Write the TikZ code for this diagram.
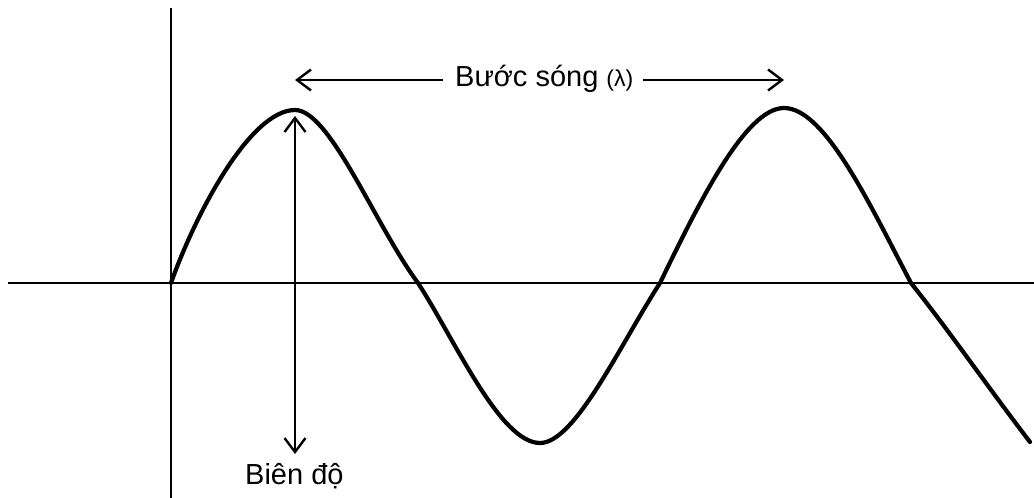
\documentclass[tikz,border=0pt]{standalone}
\usepackage{fontspec}
\setmainfont{Liberation Sans}
\usetikzlibrary{arrows.meta}
\begin{document}
\begin{tikzpicture}[x=1pt,y=-1pt,
  axis/.style={line width=2pt,black},
  wave/.style={line width=4.2pt,black,line join=round,line cap=round},
  barb/.tip={Straight Barb[length=14pt,width=21pt,line width=2.4pt]},
  dimarrow/.style={line width=2pt,black,-barb},
  lbl/.style={inner sep=0pt,font=\fontsize{29}{32}\selectfont}]
\useasboundingbox (0,0) rectangle (1034,498);
% axes
\coordinate (yT) at (171,8);
\coordinate (yB) at (171,498);
\coordinate (xL) at (8,283);
\coordinate (xR) at (1034,283);
\draw[axis] (yT) -- (yB);
\draw[axis] (xL) -- (xR);
% wave
\coordinate (w0) at (171,283);
\coordinate (p1) at (295,110);
\coordinate (z1) at (418,283);
\coordinate (t1) at (540,443);
\coordinate (z2) at (660,283);
\coordinate (p2) at (784,108);
\coordinate (z3) at (911,283);
\coordinate (wE) at (1030,442);
\draw[wave] (w0) .. controls (195,215) and (250,110) .. (p1)
  .. controls (330,110) and (375,225) .. (z1)
  .. controls (455,340) and (500,443) .. (t1)
  .. controls (575,443) and (620,345) .. (z2)
  .. controls (698,205) and (745,108) .. (p2)
  .. controls (825,108) and (870,205) .. (z3)
  .. controls (950,332) and (990,390) .. (wE);
% wavelength
\node[lbl,anchor=base west] (wl) at (455,86) {Bước sóng {\fontsize{23}{25}\selectfont(λ)}};
\coordinate (wlL) at (295,80);
\coordinate (wlR) at (784,80);
\draw[dimarrow] ([xshift=-12pt]wl.west |- wlL) -- (wlL);
\draw[dimarrow] ([xshift=10pt]wl.east |- wlR) -- (wlR);
% amplitude
\coordinate (aT) at (295,116);
\coordinate (aB) at (295,454);
\draw[dimarrow,barb-barb] (aT) -- (aB);
\node[lbl,anchor=base west] (amp) at (245,484) {Biên độ};
\end{tikzpicture}
\end{document}
